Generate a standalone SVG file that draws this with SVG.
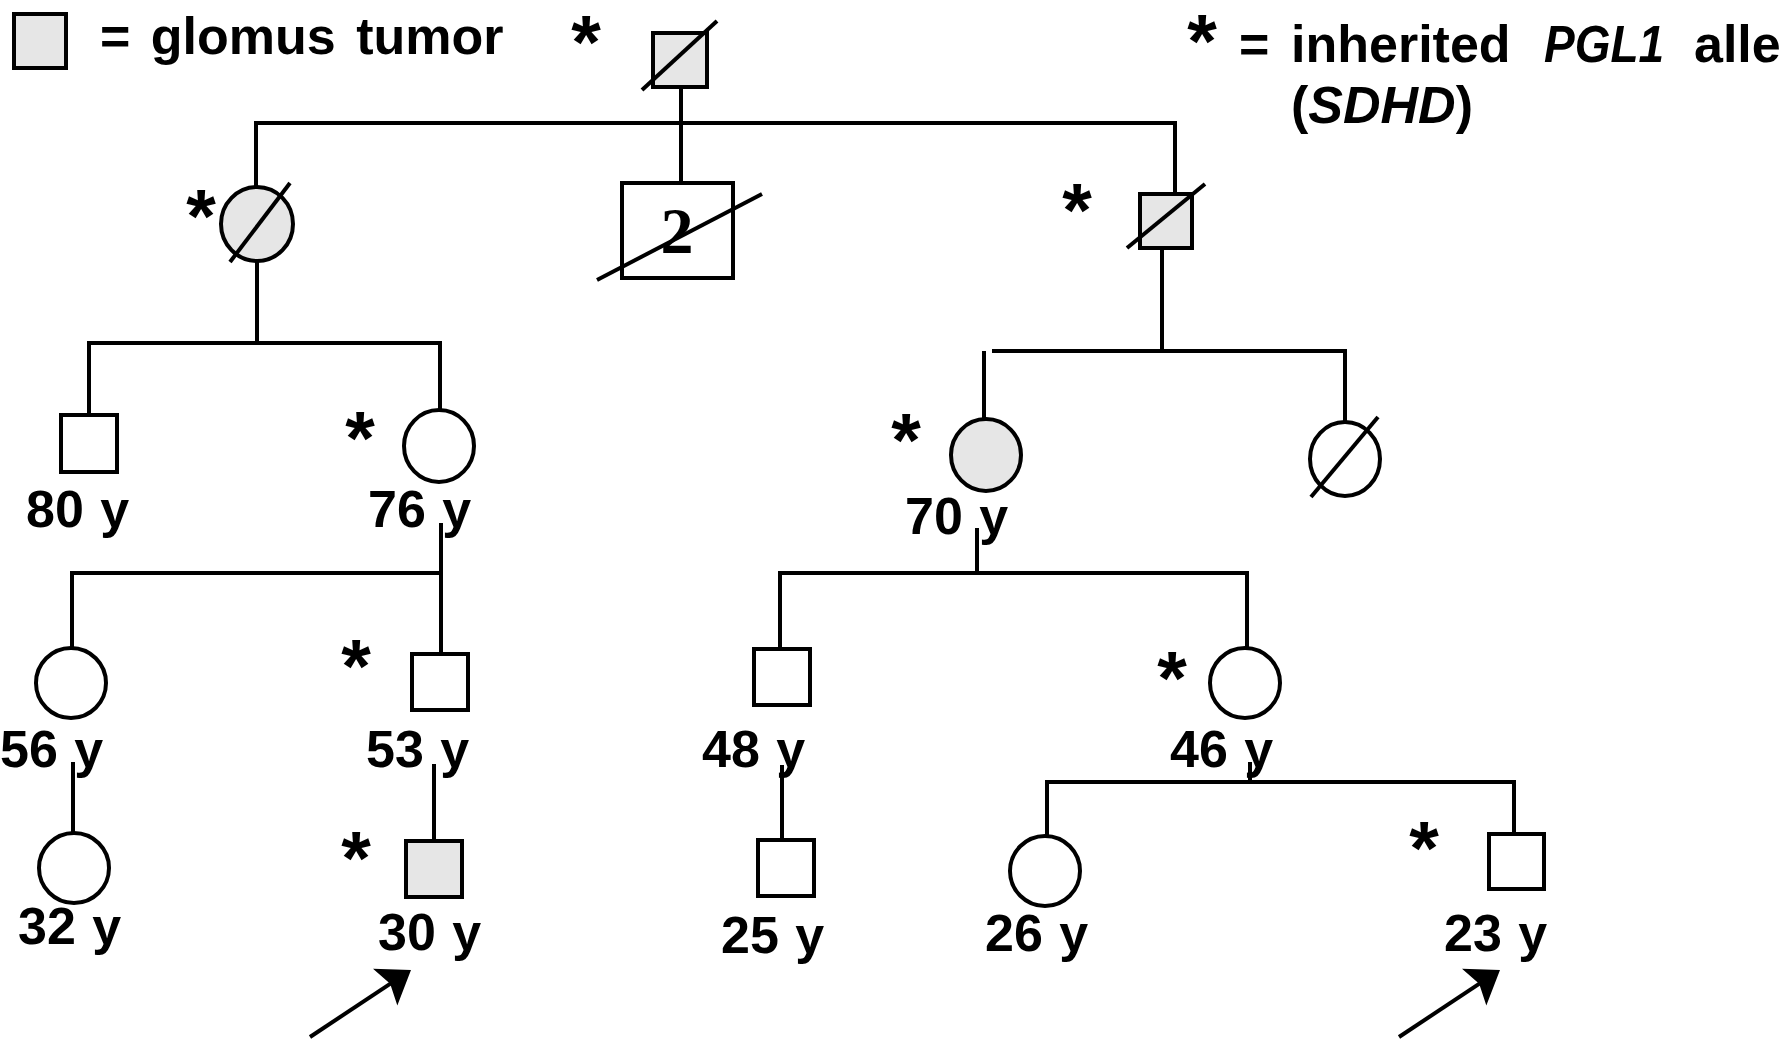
<svg xmlns="http://www.w3.org/2000/svg" width="1779" height="1040" viewBox="0 0 1779 1040">
  <defs>
    <style>
      .ln{stroke:#000;stroke-width:4;fill:none}
      .nd{stroke:#000;stroke-width:4;fill:#fff}
      .af{fill:#e6e6e6}
      .dx{stroke:#000;stroke-width:4}
      .lbl{font-family:"Liberation Sans",Arial,sans-serif;font-weight:bold;font-size:52px;word-spacing:2px;fill:#000}
      .st{font-family:"Liberation Sans",Arial,sans-serif;font-weight:bold;font-size:76px;text-anchor:middle;fill:#000}
      .lg{font-family:"Liberation Sans",Arial,sans-serif;font-weight:bold;font-size:52px;word-spacing:6px;fill:#000}
      .lg2{font-family:"Liberation Sans",Arial,sans-serif;font-weight:bold;font-size:52px;fill:#000}
      .it{font-style:italic}
      .num{font-family:"Liberation Serif","Times New Roman",serif;font-weight:bold;font-size:66px;text-anchor:middle}
    </style>
    <marker id="head" markerUnits="userSpaceOnUse" viewBox="-22 -24 38 48" markerWidth="38" markerHeight="48" refX="0" refY="0" orient="auto" overflow="visible">
      <path d="M12,0 L-19,-22 L-13,0 L-19,22 Z" fill="#000"/>
    </marker>
  </defs>
  <rect width="1779" height="1040" fill="#fff"/>

  <!-- key -->
  <g id="legend">
    <rect class="nd af" x="14" y="14" width="52" height="54"/>
    <text class="lg" x="100" y="54">= glomus tumor</text>
    <text class="st" x="1202" y="67">*</text>
    <text class="lg2" x="1239" y="62">=</text>
    <text class="lg2" x="1291" y="62">inherited</text>
    <text class="lg2 it" x="1544" y="62" textLength="120" lengthAdjust="spacingAndGlyphs">PGL1</text>
    <text class="lg2" x="1694" y="62">allele</text>
    <text class="lg2" x="1291" y="123">(<tspan class="it">SDHD</tspan>)</text>
  </g>

  <!-- lines of descent -->
  <g id="connectors">
    <path class="ln" d="M681,88 V183"/>
    <path class="ln" d="M256,188 V123 H1175 V194"/>
    <path class="ln" d="M257,261 V343"/>
    <path class="ln" d="M89,415 V343 H440 V410"/>
    <path class="ln" d="M1162,248 V351"/>
    <path class="ln" d="M984,419 V351"/>
    <path class="ln" d="M992,351 H1345 V423"/>
    <path class="ln" d="M441,523 V573"/>
    <path class="ln" d="M72,648 V573 H441 V654"/>
    <path class="ln" d="M977,528 V573"/>
    <path class="ln" d="M780,649 V573 H1247 V648"/>
    <path class="ln" d="M73,762 V833"/>
    <path class="ln" d="M434,764 V841"/>
    <path class="ln" d="M782,765 V840"/>
    <path class="ln" d="M1250,762 V782"/>
    <path class="ln" d="M1047,836 V782 H1514 V834"/>
    <path class="ln" d="M310,1037 L401,976.6" marker-end="url(#head)"/>
    <path class="ln" d="M1399,1037 L1490,976.6" marker-end="url(#head)"/>
  </g>

  <!-- generation I -->
  <g id="I-1">
    <rect class="nd af" x="653" y="33" width="54" height="54"/>
    <line class="dx" x1="642" y1="90" x2="717" y2="21"/>
    <text class="st" x="586" y="68">*</text>
  </g>

  <!-- generation II -->
  <g id="II-1">
    <ellipse class="nd af" cx="257" cy="224" rx="36" ry="37"/>
    <line class="dx" x1="230" y1="262" x2="290" y2="183"/>
    <text class="st" x="201" y="242">*</text>
  </g>
  <g id="II-2">
    <rect class="nd" x="622" y="183" width="111" height="95"/>
    <text class="num" x="677" y="253">2</text>
    <line class="dx" x1="597" y1="280" x2="762" y2="194"/>
  </g>
  <g id="II-3">
    <rect class="nd af" x="1140" y="194" width="52" height="54"/>
    <line class="dx" x1="1127" y1="248" x2="1205" y2="184"/>
    <text class="st" x="1077" y="236">*</text>
  </g>

  <!-- generation III -->
  <g id="III-1">
    <rect class="nd" x="61" y="415" width="56" height="57"/>
    <text class="lbl" x="26" y="527">80 y</text>
  </g>
  <g id="III-2">
    <ellipse class="nd" cx="439" cy="446" rx="35" ry="36"/>
    <text class="st" x="360" y="464">*</text>
    <text class="lbl" x="368" y="527">76 y</text>
  </g>
  <g id="III-3">
    <ellipse class="nd af" cx="986" cy="455" rx="35" ry="36"/>
    <text class="st" x="906" y="466">*</text>
    <text class="lbl" x="905" y="534">70 y</text>
  </g>
  <g id="III-4">
    <ellipse class="nd" cx="1345" cy="459" rx="35" ry="37"/>
    <line class="dx" x1="1311" y1="497" x2="1378" y2="417"/>
  </g>

  <!-- generation IV -->
  <g id="IV-1">
    <ellipse class="nd" cx="71" cy="683" rx="35" ry="35"/>
    <text class="lbl" x="0" y="767">56 y</text>
  </g>
  <g id="IV-2">
    <rect class="nd" x="412" y="654" width="56" height="56"/>
    <text class="st" x="356" y="692">*</text>
    <text class="lbl" x="366" y="767">53 y</text>
  </g>
  <g id="IV-3">
    <rect class="nd" x="754" y="649" width="56" height="56"/>
    <text class="lbl" x="702" y="767">48 y</text>
  </g>
  <g id="IV-4">
    <ellipse class="nd" cx="1245" cy="683" rx="35" ry="35"/>
    <text class="st" x="1172" y="704">*</text>
    <text class="lbl" x="1170" y="767">46 y</text>
  </g>

  <!-- generation V -->
  <g id="V-1">
    <ellipse class="nd" cx="74" cy="868" rx="35" ry="35"/>
    <text class="lbl" x="18" y="944">32 y</text>
  </g>
  <g id="V-2">
    <rect class="nd af" x="406" y="841" width="56" height="56"/>
    <text class="st" x="356" y="884">*</text>
    <text class="lbl" x="378" y="950">30 y</text>
  </g>
  <g id="V-3">
    <rect class="nd" x="758" y="840" width="56" height="56"/>
    <text class="lbl" x="721" y="953">25 y</text>
  </g>
  <g id="V-4">
    <ellipse class="nd" cx="1045" cy="871" rx="35" ry="35"/>
    <text class="lbl" x="985" y="951">26 y</text>
  </g>
  <g id="V-5">
    <rect class="nd" x="1489" y="834" width="55" height="55"/>
    <text class="st" x="1424" y="874">*</text>
    <text class="lbl" x="1444" y="951">23 y</text>
  </g>
</svg>
